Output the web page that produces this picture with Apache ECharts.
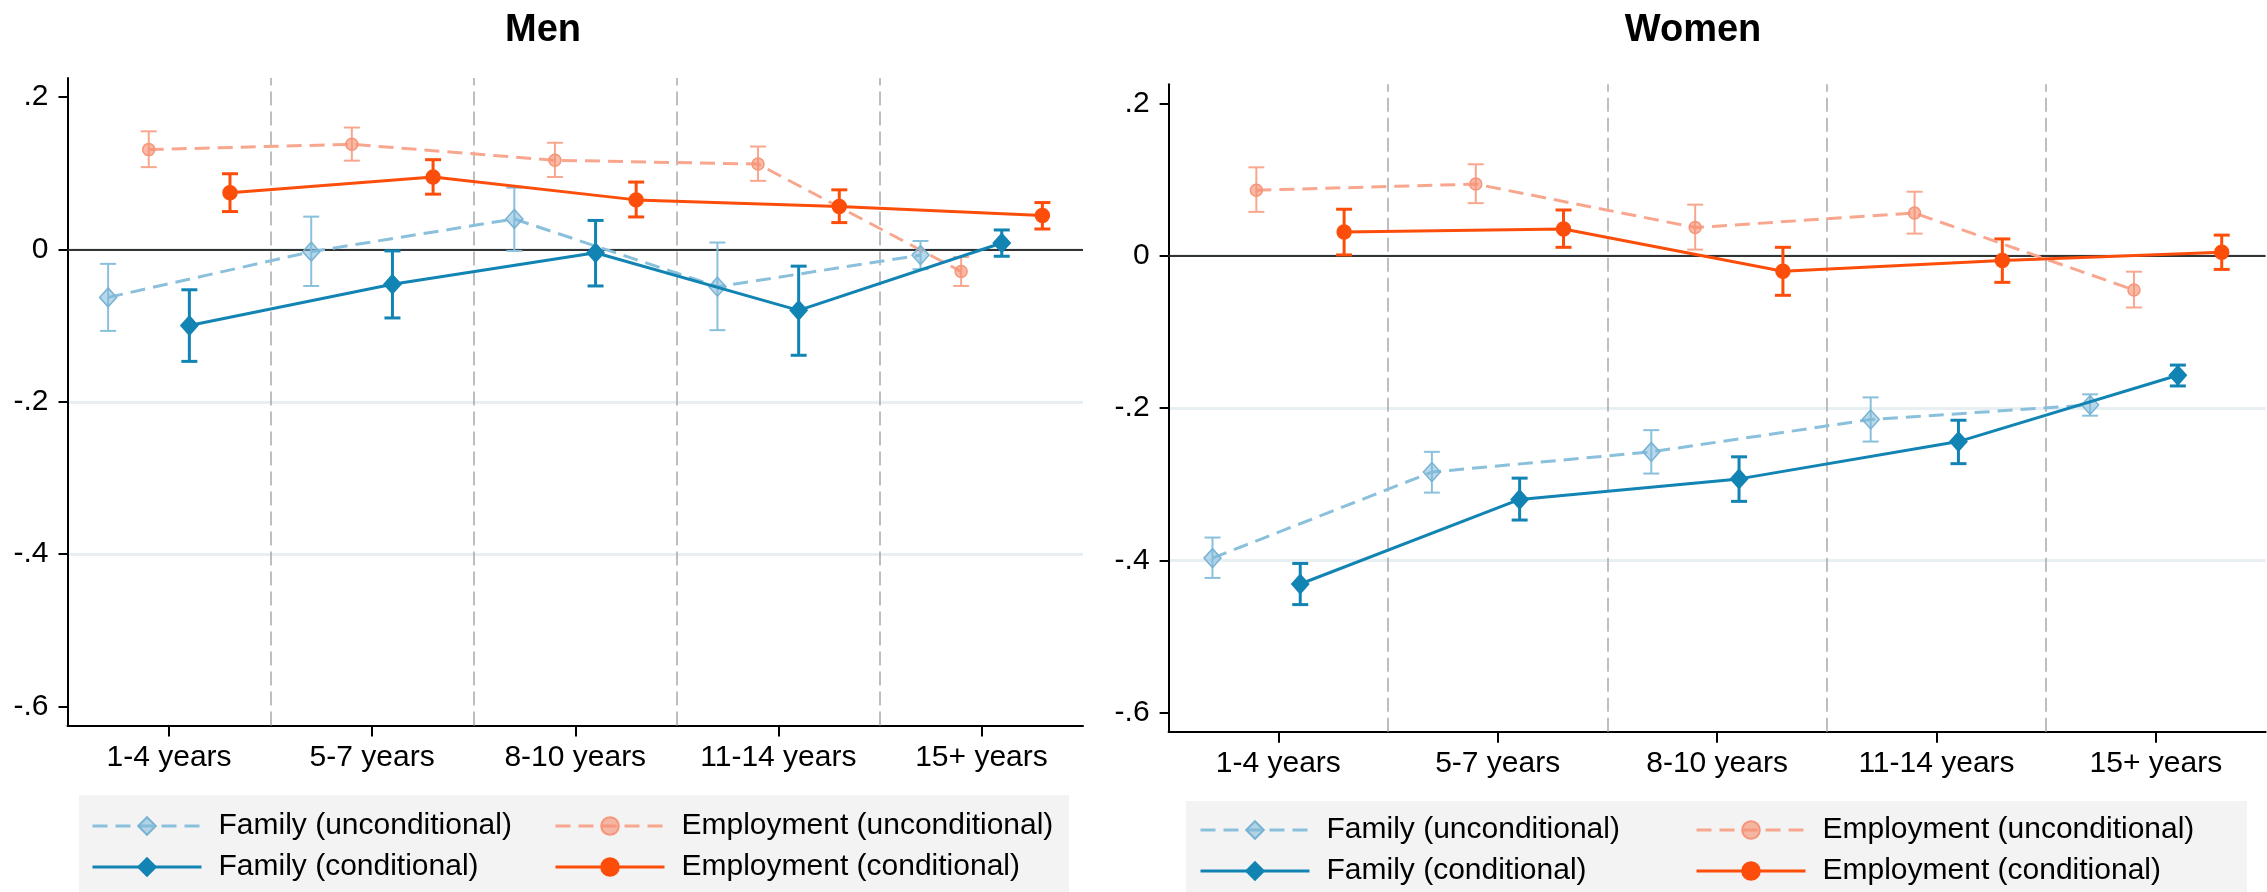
<!DOCTYPE html>
<html>
<head>
<meta charset="utf-8">
<title>Men / Women</title>
<script src="https://cdn.jsdelivr.net/npm/echarts@6/dist/echarts.min.js"></script>
<style>
  html, body { margin: 0; padding: 0; background: #ffffff; }
  #chart { width: 2267px; height: 892px; }
</style>
</head>
<body>
<div id="chart"></div>
<script>
// Duration groups on the x axis
const categories = ['1-4 years', '5-7 years', '8-10 years', '11-14 years', '15+ years'];
const yTicks = [-0.6, -0.4, -0.2, 0, 0.2];
const panelTitles = ['Men', 'Women'];
const seriesNames = ['Family (unconditional)', 'Employment (unconditional)', 'Family (conditional)', 'Employment (conditional)'];

// Men: point estimates with lower / upper confidence bounds
const menFamUnc   = [-0.063, -0.003, 0.040, -0.049, -0.0075];
const menFamUncLo = [-0.107, -0.048, -0.002, -0.106, -0.026];
const menFamUncHi = [-0.019, 0.043, 0.081, 0.009, 0.011];
const menEmpUnc   = [0.131, 0.138, 0.117, 0.112, -0.029];
const menEmpUncLo = [0.108, 0.1165, 0.095, 0.090, -0.048];
const menEmpUncHi = [0.155, 0.160, 0.140, 0.135, -0.010];
const menFamCon   = [-0.100, -0.0457, -0.0044, -0.080, 0.0084];
const menFamConLo = [-0.147, -0.090, -0.048, -0.139, -0.009];
const menFamConHi = [-0.053, -0.002, 0.038, -0.022, 0.0255];
const menEmpCon   = [0.0743, 0.0949, 0.065, 0.0563, 0.0444];
const menEmpConLo = [0.0497, 0.0725, 0.0426, 0.0352, 0.0268];
const menEmpConHi = [0.0993, 0.1178, 0.0884, 0.0782, 0.0615];

// Women: point estimates with lower / upper confidence bounds
const womenFamUnc   = [-0.397, -0.284, -0.2575, -0.215, -0.196];
const womenFamUncLo = [-0.423, -0.311, -0.286, -0.244, -0.210];
const womenFamUncHi = [-0.370, -0.2575, -0.229, -0.186, -0.182];
const womenEmpUnc   = [0.086, 0.094, 0.037, 0.056, -0.045];
const womenEmpUncLo = [0.0575, 0.069, 0.008, 0.029, -0.068];
const womenEmpUncHi = [0.116, 0.120, 0.067, 0.084, -0.021];
const womenFamCon   = [-0.431, -0.320, -0.293, -0.244, -0.157];
const womenFamConLo = [-0.458, -0.347, -0.3225, -0.273, -0.171];
const womenFamConHi = [-0.404, -0.292, -0.264, -0.216, -0.1436];
const womenEmpCon   = [0.031, 0.035, -0.0205, -0.0063, 0.0046];
const womenEmpConLo = [0.001, 0.011, -0.052, -0.035, -0.018];
const womenEmpConHi = [0.061, 0.060, 0.011, 0.022, 0.027];

const FONT = "'Liberation Sans', Arial, Helvetica, sans-serif";
const LABEL_SIZE = 30;

// Visual style of each of the four estimate series
const styles = [
  { dodge: -0.3, line: '#8ac0dc', dash: [15, 8], width: 3, symbol: 'diamond', size: [17, 19],
    fill: 'rgba(125,184,216,0.55)', border: '#78b3d4', bar: '#8ac0dc', barWidth: 2, z: 2 },
  { dodge: -0.1, line: '#f8a78e', dash: [15, 8], width: 3, symbol: 'circle', size: 12,
    fill: 'rgba(247,140,110,0.6)', border: '#f5967a', bar: '#f8a78e', barWidth: 2, z: 2 },
  { dodge: 0.1, line: '#1284b4', dash: 'solid', width: 3, symbol: 'diamond', size: [17, 19],
    fill: '#1284b4', border: '#1284b4', bar: '#1284b4', barWidth: 3, z: 3 },
  { dodge: 0.3, line: '#fc4e0a', dash: 'solid', width: 3, symbol: 'circle', size: 14,
    fill: '#fc4e0a', border: '#fc4e0a', bar: '#fc4e0a', barWidth: 3, z: 3 }
];

const panels = [
  { est: [menFamUnc, menEmpUnc, menFamCon, menEmpCon],
    lo:  [menFamUncLo, menEmpUncLo, menFamConLo, menEmpConLo],
    hi:  [menFamUncHi, menEmpUncHi, menFamConHi, menEmpConHi],
    grid: { left: 67.5, top: 78, width: 1015.5, height: 647.5 },
    titleX: 538, legendBox: [79, 795, 990, 100], legendX: [91, 554], legendTop: 811 },
  { est: [womenFamUnc, womenEmpUnc, womenFamCon, womenEmpCon],
    lo:  [womenFamUncLo, womenEmpUncLo, womenFamConLo, womenEmpConLo],
    hi:  [womenFamUncHi, womenEmpUncHi, womenFamConHi, womenEmpConHi],
    grid: { left: 1168.6, top: 84.3, width: 1097, height: 647.5 },
    titleX: 1688, legendBox: [1186, 801, 1061, 95], legendX: [1199, 1695], legendTop: 815 }
];

function fmtTick(v) {
  if (Math.abs(v) < 1e-9) return '0';
  const s = Math.abs(v).toFixed(1).replace(/^0/, '');
  return (v < 0 ? '-' : '') + s;
}

function errorBarRenderer(color, lw) {
  return function (params, api) {
    const x = api.value(0);
    const top = api.coord([x, api.value(2)]);
    const bot = api.coord([x, api.value(1)]);
    const hw = 8;
    const st = { stroke: color, lineWidth: lw, fill: null };
    return {
      type: 'group',
      children: [
        { type: 'line', shape: { x1: top[0], y1: top[1], x2: bot[0], y2: bot[1] }, style: st },
        { type: 'line', shape: { x1: top[0] - hw, y1: top[1], x2: top[0] + hw, y2: top[1] }, style: st },
        { type: 'line', shape: { x1: bot[0] - hw, y1: bot[1], x2: bot[0] + hw, y2: bot[1] }, style: st }
      ]
    };
  };
}

const option = {
  animation: false,
  backgroundColor: '#ffffff',
  textStyle: { fontFamily: FONT },
  title: [], grid: [], xAxis: [], yAxis: [], series: [], legend: [], graphic: []
};

panels.forEach((p, k) => {
  option.title.push({
    text: panelTitles[k], left: p.titleX, top: 7, textAlign: 'center',
    textStyle: { fontFamily: FONT, fontSize: 38, fontWeight: 'bold', color: '#000' }
  });
  option.grid.push(Object.assign({ containLabel: false }, p.grid));

  // visible category axis (labels and ticks)
  option.xAxis.push({
    type: 'category', gridIndex: k, data: categories, boundaryGap: true, position: 'bottom',
    axisLine: { show: true, onZero: false, lineStyle: { color: '#000', width: 2 } },
    axisTick: { show: true, alignWithLabel: true, length: 11, lineStyle: { color: '#000', width: 2 } },
    axisLabel: { color: '#000', fontSize: LABEL_SIZE, fontFamily: FONT, margin: 17, interval: 0 },
    splitLine: { show: false }
  });
  // hidden numeric axis used to place dodged estimates
  option.xAxis.push({
    type: 'value', gridIndex: k, min: -0.5, max: categories.length - 0.5, show: false,
    axisLine: { onZero: false }
  });
  option.yAxis.push({
    type: 'value', gridIndex: k, min: -0.625, max: 0.225, position: 'left',
    axisLine: { show: true, onZero: false, lineStyle: { color: '#000', width: 2 } },
    axisTick: { show: true, length: 9, customValues: yTicks, lineStyle: { color: '#000', width: 2 } },
    axisLabel: { color: '#000', fontSize: LABEL_SIZE, fontFamily: FONT, margin: 19, customValues: yTicks, formatter: fmtTick },
    splitLine: { show: true, showMinLine: false, showMaxLine: false, lineStyle: { color: '#e8eff3', width: 3 } }
  });

  const xIdx = 2 * k + 1;
  styles.forEach((s, j) => {
    const pts = p.est[j].map((v, i) => [i + s.dodge, v]);
    const bars = p.est[j].map((v, i) => [i + s.dodge, p.lo[j][i], p.hi[j][i]]);
    const line = {
      type: 'line', name: seriesNames[j], xAxisIndex: xIdx, yAxisIndex: k, data: pts,
      symbol: s.symbol, symbolSize: s.size, showSymbol: true, z: s.z + 1,
      lineStyle: { color: s.line, width: s.width, type: s.dash },
      itemStyle: { color: s.fill, borderColor: s.border, borderWidth: 1.5 },
      emphasis: { disabled: true }, silent: true
    };
    if (j === 0) {
      line.markLine = {
        silent: true, symbol: 'none', animation: false, z: 1,
        label: { show: false },
        data: [
          ...categories.slice(1).map((c, i) => ({
            xAxis: i + 0.5, lineStyle: { color: '#a9a9a9', width: 1.5, type: [14, 6] }
          })),
          { yAxis: 0, lineStyle: { color: '#333333', width: 2, type: 'solid' } }
        ]
      };
    }
    option.series.push({
      type: 'custom', xAxisIndex: xIdx, yAxisIndex: k, data: bars, z: s.z,
      renderItem: errorBarRenderer(s.bar, s.barWidth), silent: true
    });
    option.series.push(line);
  });

  // legend background panel
  option.graphic.push({
    type: 'rect', z: -10, silent: true,
    shape: { x: p.legendBox[0], y: p.legendBox[1], width: p.legendBox[2], height: p.legendBox[3] },
    style: { fill: '#f3f3f3' }
  });
  [[0, 2], [1, 3]].forEach((pair, c) => {
    option.legend.push({
      data: pair.map(j => seriesNames[j]), orient: 'vertical',
      left: p.legendX[c], top: p.legendTop, padding: 0,
      itemWidth: 109, itemHeight: 22, itemGap: 11,
      selectedMode: false,
      lineStyle: { width: 3 },
      textStyle: { fontSize: LABEL_SIZE, fontFamily: FONT, color: '#000', padding: [0, 0, 0, 12] }
    });
  });
});

const chart = echarts.init(document.getElementById('chart'), null, { renderer: 'canvas' });
chart.setOption(option);
</script>
</body>
</html>
